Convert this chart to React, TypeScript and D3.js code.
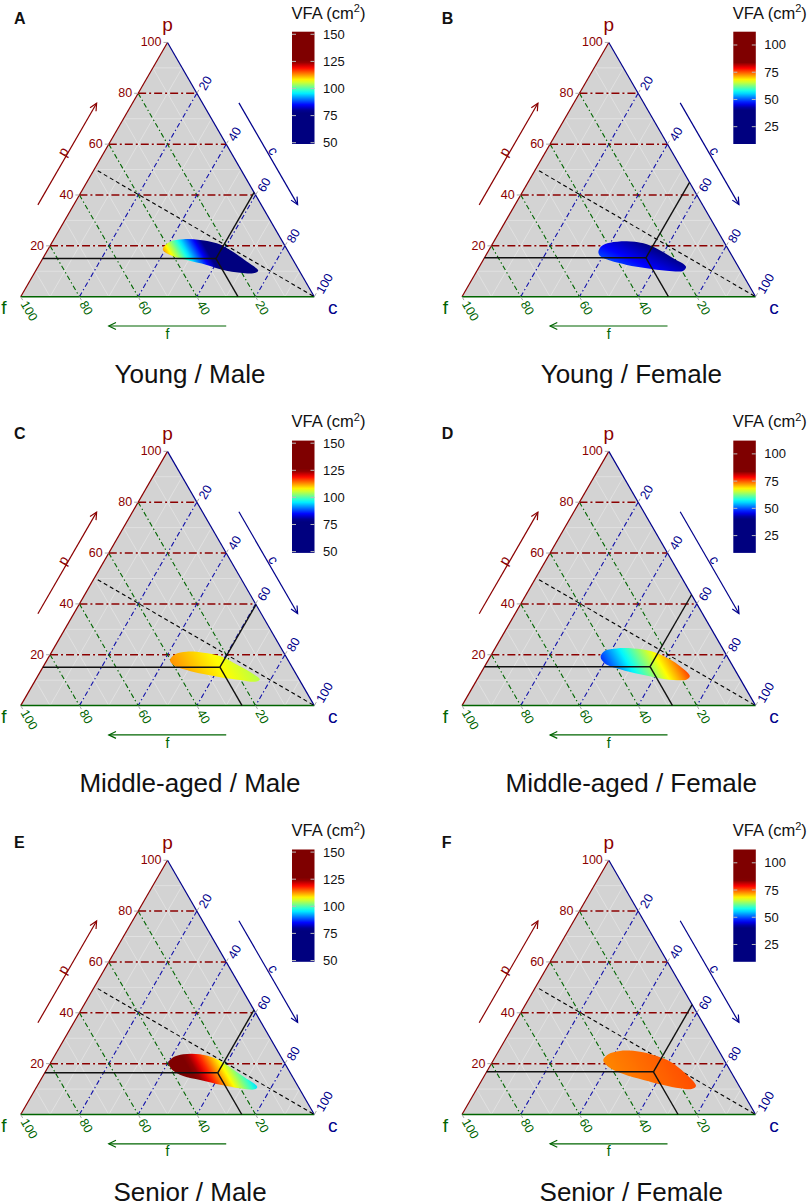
import { curveCatmullRomClosed, line, range, scaleLinear } from "d3";

const panelLetters = ["A", "B", "C", "D", "E", "F"];
const panelTitles = [
  "Young / Male",
  "Young / Female",
  "Middle-aged / Male",
  "Middle-aged / Female",
  "Senior / Male",
  "Senior / Female",
];
const panelSex = ["male", "female", "male", "female", "male", "female"];

// mean composition of each group, in % (f = 100 - p - c)
const meanP = [15, 15.3, 15.1, 15.3, 16.4, 16.8];
const meanC = [59, 55, 60.3, 56.4, 58.9, 56.8];

// outline of the predicted region, [p, c] in %
const outlineA = [[18.6, 39.1], [21.6, 40.0], [22.6, 44.1], [22.3, 49.9], [21.0, 56.3], [18.4, 62.1], [13.8, 70.1], [10.2, 75.8], [9.2, 74.6], [9.4, 70.0], [10.5, 63.8], [12.5, 57.1], [14.4, 49.3], [16.4, 42.7]];
const outlineB = [[17.7, 37.6], [19.9, 37.6], [21.2, 39.8], [21.8, 45.2], [21.0, 51.3], [19.0, 56.8], [15.1, 64.4], [11.8, 70.4], [10.2, 70.3], [10.2, 64.6], [11.2, 57.3], [12.5, 49.9], [14.2, 43.3], [16.0, 39.0]];
const outlineC = [[17.9, 41.9], [20.2, 42.5], [21.2, 45.9], [20.8, 51.8], [19.5, 58.1], [16.9, 64.0], [13.3, 71.4], [10.3, 76.3], [9.4, 75.1], [10.1, 69.7], [11.1, 62.9], [12.4, 56.0], [14.0, 49.5], [16.0, 44.0]];
const outlineD = [[19.2, 37.6], [21.6, 37.9], [22.5, 41.4], [22.5, 47.1], [21.6, 53.2], [19.2, 59.5], [16.0, 65.7], [11.6, 71.8], [10.3, 71.4], [10.1, 66.9], [11.0, 60.8], [12.3, 54.5], [14.3, 46.7], [16.6, 40.4]];
const outlineE = [[20.4, 40.1], [22.5, 40.7], [23.7, 43.5], [23.7, 49.2], [22.1, 55.1], [19.5, 60.4], [14.9, 68.4], [10.9, 75.1], [9.9, 74.8], [10.3, 69.5], [11.6, 62.7], [13.6, 54.3], [15.1, 47.8], [17.8, 42.5]];
const outlineF = [[21.4, 37.4], [23.7, 38.0], [25.0, 41.3], [24.7, 48.3], [23.0, 54.8], [20.8, 60.5], [16.2, 67.9], [11.2, 74.1], [10.0, 73.2], [10.3, 69.1], [11.6, 62.8], [13.6, 55.0], [15.9, 47.0], [18.8, 40.4]];
const outlines = [outlineA, outlineB, outlineC, outlineD, outlineE, outlineF];

// VFA shading: [p, c, VFA] at the two ends of the gradient
const shadeFrom = [[16.0, 41.2, 113], [9.7, 50.7, 50], [14.8, 43.5, 113], [19.2, 37.6, 48.7], [20.4, 40.1, 136.6], [21.4, 37.4, 73]];
const shadeTo = [[27.8, 53.0, 61], [22.3, 49.5, 41], [30.5, 59.2, 103.6], [35.0, 53.4, 80.7], [40.0, 59.8, 72.7], [37.2, 53.2, 75.8]];

// colour bars
const maleTicks = [50, 75, 100, 125, 150];
const femaleTicks = [25, 50, 75, 100];
const maleJet = [79, 125];
const femaleJet = [41, 84];
const maleBar = [48.8, 152.4];
const femaleBar = [9.1, 112.2];

const axisTicks = [20, 40, 60, 80, 100];
const minorSteps = range(10, 100, 10);
const majorSteps = [20, 40, 60, 80];

const jetColors = ["#00007F", "#0000FF", "#00FFFF", "#FFFF00", "#FF0000", "#7F0000"];
const RED = "#8B0000";
const BLUE = "#00008B";
const GREEN = "#006400";
const FONT = "'Liberation Sans', Arial, Helvetica, sans-serif";

function jet(lo: number, hi: number) {
  const r = hi - lo;
  return scaleLinear<string>()
    .domain([lo, lo + 0.125 * r, lo + 0.375 * r, lo + 0.625 * r, lo + 0.875 * r, hi])
    .range(jetColors)
    .clamp(true);
}

type P = [number, number];

function arrowHead(tail: P, tip: P) {
  const a = Math.atan2(tip[1] - tail[1], tip[0] - tail[0]);
  const len = 8;
  const s = 0.45;
  const p1: P = [tip[0] - len * Math.cos(a - s), tip[1] - len * Math.sin(a - s)];
  const p2: P = [tip[0] - len * Math.cos(a + s), tip[1] - len * Math.sin(a + s)];
  return `M${p1[0]},${p1[1]}L${tip[0]},${tip[1]}L${p2[0]},${p2[1]}`;
}

function Panel({ index }: { index: number }) {
  const col = index % 2;
  const row = Math.floor(index / 2);
  const ox = col * 441.3;
  const oy = row * 408.9;
  const letter = panelLetters[index];
  const male = panelSex[index] === "male";

  const side = 293.6;
  const h = (side * Math.sqrt(3)) / 2;
  const left = 20.7;
  const base = 296.7;
  const xs = scaleLinear().domain([0, 100]).range([left, left + side]);
  const ys = scaleLinear().domain([0, 100]).range([base, base - h]);
  const pt = (p: number, c: number): P => [xs(c + p / 2), ys(p)];
  const seg = (a: P, b: P) => `M${a[0]},${a[1]}L${b[0]},${b[1]}`;
  const off = (a: P, n: P, d: number): P => [a[0] + n[0] * d, a[1] + n[1] * d];

  const nLeft: P = [-0.866, -0.5];
  const nRight: P = [0.866, -0.5];
  const upRight: P = [0.5, -0.866];
  const downRight: P = [0.5, 0.866];

  const color = male ? jet(maleJet[0], maleJet[1]) : jet(femaleJet[0], femaleJet[1]);
  const barDomain = male ? maleBar : femaleBar;
  const ticks = male ? maleTicks : femaleTicks;
  const barY = scaleLinear().domain(barDomain).range([144, 31.7]);

  const blobPath = line<P>().curve(curveCatmullRomClosed.alpha(0.5))(
    outlines[index].map(([p, c]) => pt(p, c))
  );
  const [sp, sc, sv] = shadeFrom[index];
  const [ep, ec, ev] = shadeTo[index];
  const s0 = pt(sp, sc);
  const s1 = pt(ep, ec);
  const shadeStops = range(0, 21).map((i) => i / 20);
  const barStops = range(0, 41).map((i) => i / 40);

  const mp = meanP[index];
  const mc = meanC[index];
  const mf = 100 - mp - mc;
  const mean = pt(mp, mc);

  const pA0 = off(pt(30, 0), nLeft, 31);
  const pA1 = off(pt(70, 0), nLeft, 31);
  const cA0 = off(pt(70, 30), nRight, 31.6);
  const cA1 = off(pt(30, 70), nRight, 31.6);
  const fA0 = off(pt(0, 70), [0, 1], 29.3);
  const fA1 = off(pt(0, 30), [0, 1], 29.3);
  const pLab = off(pt(50, 0), nLeft, 36);
  const cLab = off(pt(50, 50), nRight, 37.6);
  const fLab = off(pt(0, 50), [0, 1], 37);

  const apex = pt(100, 0);
  const vf = pt(0, 0);
  const vc = pt(0, 100);
  const dashStart = pt(49.5, 1.5);

  return (
    <g transform={`translate(${ox},${oy})`} fontFamily={FONT}>
      <defs>
        <linearGradient
          id={`blob-${letter}`}
          gradientUnits="userSpaceOnUse"
          x1={s0[0]}
          y1={s0[1]}
          x2={s1[0]}
          y2={s1[1]}
        >
          {shadeStops.map((t) => (
            <stop key={t} offset={t} stopColor={color(sv + (ev - sv) * t)} />
          ))}
        </linearGradient>
        <linearGradient id={`bar-${letter}`} x1="0" y1="1" x2="0" y2="0">
          {barStops.map((t) => (
            <stop
              key={t}
              offset={t}
              stopColor={color(barDomain[0] + (barDomain[1] - barDomain[0]) * t)}
            />
          ))}
        </linearGradient>
      </defs>

      <path d={`M${vf[0]},${vf[1]}L${apex[0]},${apex[1]}L${vc[0]},${vc[1]}Z`} fill="#D3D3D3" />

      {minorSteps.map((k) => (
        <g key={`m${k}`} stroke="#e6e6e6" strokeWidth={0.7}>
          <path d={seg(pt(k, 0), pt(k, 100 - k))} />
          <path d={seg(pt(100 - k, k), pt(0, k))} />
          <path d={seg(pt(100 - k, 0), pt(0, 100 - k))} />
        </g>
      ))}

      {majorSteps.map((k) => (
        <g key={`M${k}`} fill="none">
          <path d={seg(pt(k, 0), pt(k, 100 - k))} stroke={RED} strokeWidth={1.5} strokeDasharray="8 3 2 3" />
          <path d={seg(pt(100 - k, k), pt(0, k))} stroke="#1010A8" strokeWidth={1.1} strokeDasharray="5 2.5 1.5 2.5" />
          <path d={seg(pt(100 - k, 0), pt(0, 100 - k))} stroke={GREEN} strokeWidth={1.1} strokeDasharray="5 2.5 1.5 2.5" />
        </g>
      ))}

      <path d={seg(vf, apex)} stroke={RED} strokeWidth={1.2} />
      <path d={seg(apex, vc)} stroke={BLUE} strokeWidth={1.2} />
      <path d={seg(vf, vc)} stroke={GREEN} strokeWidth={1.5} />

      <path d={seg(dashStart, vc)} stroke="#000" strokeWidth={1.1} strokeDasharray="4 3" />

      {blobPath ? <path d={blobPath} fill={`url(#blob-${letter})`} /> : null}

      <g stroke="#111" strokeWidth={1.4} fill="none">
        <path d={seg(pt(mp, 0), mean)} />
        <path d={seg(mean, pt(100 - mc, mc))} />
        <path d={seg(mean, pt(0, 100 - mf))} />
      </g>

      {axisTicks.map((v) => {
        const a = pt(v, 0);
        return (
          <g key={`p${v}`}>
            <path d={seg(a, [a[0] - 4, a[1]])} stroke="#aaa" />
            <text x={a[0] - 6} y={a[1]} textAnchor="end" dominantBaseline="central" fontSize={12.5} fill={RED}>
              {v}
            </text>
          </g>
        );
      })}
      {axisTicks.map((v) => {
        const a = pt(100 - v, v);
        const l = off(off(a, upRight, 6), [0.866, 0.5], 2.5);
        return (
          <g key={`c${v}`}>
            <path d={seg(a, off(a, upRight, 4))} stroke="#aaa" />
            <text
              transform={`translate(${l[0]},${l[1]}) rotate(-60)`}
              dominantBaseline="central"
              fontSize={12.5}
              fill={BLUE}
            >
              {v}
            </text>
          </g>
        );
      })}
      {axisTicks.map((v) => {
        const a = pt(0, 100 - v);
        const l = off(a, downRight, 6);
        return (
          <g key={`f${v}`}>
            <path d={seg(a, off(a, downRight, 4))} stroke="#aaa" />
            <text
              transform={`translate(${l[0]},${l[1]}) rotate(60)`}
              dominantBaseline="central"
              fontSize={12.5}
              fill={GREEN}
            >
              {v}
            </text>
          </g>
        );
      })}

      <text x={apex[0]} y={apex[1] - 18} textAnchor="middle" dominantBaseline="central" fontSize={19} fill={RED}>
        p
      </text>
      <text x={vf[0] - 16.7} y={vf[1] + 11} textAnchor="middle" dominantBaseline="central" fontSize={19} fill={GREEN}>
        f
      </text>
      <text x={vc[0] + 18.4} y={vc[1] + 11} textAnchor="middle" dominantBaseline="central" fontSize={19} fill={BLUE}>
        c
      </text>

      <g fill="none" strokeWidth={1.2}>
        <path d={seg(pA0, pA1)} stroke={RED} />
        <path d={arrowHead(pA0, pA1)} stroke={RED} />
        <path d={seg(cA0, cA1)} stroke={BLUE} />
        <path d={arrowHead(cA0, cA1)} stroke={BLUE} />
        <path d={seg(fA0, fA1)} stroke={GREEN} />
        <path d={arrowHead(fA0, fA1)} stroke={GREEN} />
      </g>
      <text transform={`translate(${pLab[0]},${pLab[1]}) rotate(-60)`} textAnchor="middle" dominantBaseline="central" fontSize={14} fill={RED}>
        p
      </text>
      <text transform={`translate(${cLab[0]},${cLab[1]}) rotate(60)`} textAnchor="middle" dominantBaseline="central" fontSize={14} fill={BLUE}>
        c
      </text>
      <text x={fLab[0]} y={fLab[1]} textAnchor="middle" dominantBaseline="central" fontSize={14} fill={GREEN}>
        f
      </text>

      <text x={291.5} y={18.5} fontSize={16.5} fill="#111">
        VFA (cm
        <tspan dy={-6.5} fontSize={11}>2</tspan>
        <tspan dy={6.5}>)</tspan>
      </text>
      <rect x={292} y={31.7} width={22.5} height={112.3} fill={`url(#bar-${letter})`} />
      {ticks.map((t) => (
        <g key={t}>
          <path d={`M292,${barY(t)}h4M314.5,${barY(t)}h-4`} stroke="#bbb" strokeWidth={1} />
          <text x={323} y={barY(t)} dominantBaseline="central" fontSize={13} fill="#111">
            {t}
          </text>
        </g>
      ))}

      <text x={col === 0 ? 14 : 0.4} y={row === 0 ? 24 : 30} fontSize={16} fontWeight="bold" fill="#111">
        {letter}
      </text>
      <text x={190} y={383} textAnchor="middle" fontSize={26} fill="#111">
        {panelTitles[index]}
      </text>
    </g>
  );
}

export default function App() {
  return (
    <svg
      width={809}
      height={1204}
      viewBox="0 0 809 1204"
      style={{ position: "absolute", left: 0, top: 0, background: "#fff" }}
    >
      {panelLetters.map((l, i) => (
        <Panel key={l} index={i} />
      ))}
    </svg>
  );
}
